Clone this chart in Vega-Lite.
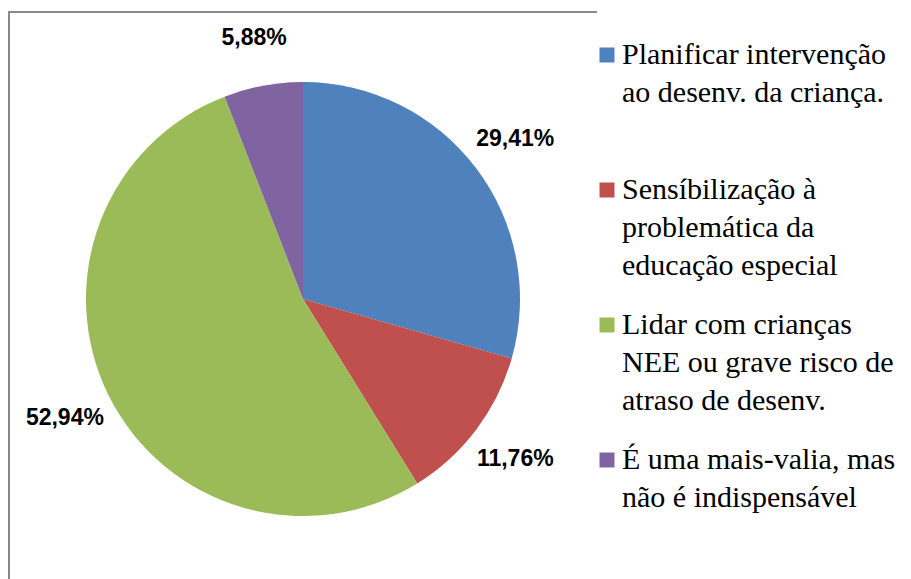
{
  "$schema": "https://vega.github.io/schema/vega-lite/v6.json",
  "width": 588,
  "height": 574,
  "autosize": {"type": "none"},
  "padding": {"left": 9, "top": 12, "right": 314, "bottom": -7},
  "background": "white",
  "view": {"stroke": "#898989", "strokeWidth": 2, "strokeDash": [588, 1162, 574]},
  "data": {
    "values": [
      {"cat": "Planificar intervenção|ao desenv. da criança.", "pct": 29.41, "label": "29,41%", "k": 1},
      {"cat": "Sensíbilização à|problemática da|educação especial", "pct": 11.76, "label": "11,76%", "k": 2},
      {"cat": "Lidar com crianças|NEE ou grave risco de|atraso de desenv.", "pct": 52.94, "label": "52,94%", "k": 3},
      {"cat": "É uma mais-valia, mas|não é indispensável", "pct": 5.88, "label": "5,88%", "k": 4}
    ]
  },
  "encoding": {
    "theta": {"field": "pct", "type": "quantitative", "stack": true},
    "order": {"field": "k", "type": "ordinal"},
    "color": {
      "field": "cat",
      "type": "nominal",
      "scale": {
        "domain": [
          "Planificar intervenção|ao desenv. da criança.",
          "Sensíbilização à|problemática da|educação especial",
          "Lidar com crianças|NEE ou grave risco de|atraso de desenv.",
          "É uma mais-valia, mas|não é indispensável"
        ],
        "range": ["#4F81BD", "#C0504D", "#9BBB59", "#8064A2"]
      },
      "legend": {
        "title": null,
        "orient": "right",
        "offset": -33,
        "padding": 28,
        "labelExpr": "split(datum.label, '|')",
        "labelFont": "Liberation Serif",
        "labelFontSize": 30,
        "labelLimit": 600,
        "labelOffset": 0,
        "labelColor": "#000000",
        "symbolType": "square",
        "symbolSize": 225,
        "symbolStrokeWidth": 0,
        "symbolOpacity": 1,
        "gridAlign": "all",
        "rowPadding": 29,
        "encoding": {
          "labels": {
            "lineHeight": {"value": 38},
            "font": {"value": "Liberation Serif"}
          }
        }
      }
    }
  },
  "layer": [
    {"mark": {"type": "arc", "outerRadius": 217}},
    {
      "mark": {"type": "text", "radius": 266, "font": "Liberation Sans", "fontWeight": "bold", "fontSize": 23},
      "encoding": {
        "text": {"field": "label"},
        "color": {"value": "#000000"},
        "detail": {"field": "cat"}
      }
    }
  ]
}
